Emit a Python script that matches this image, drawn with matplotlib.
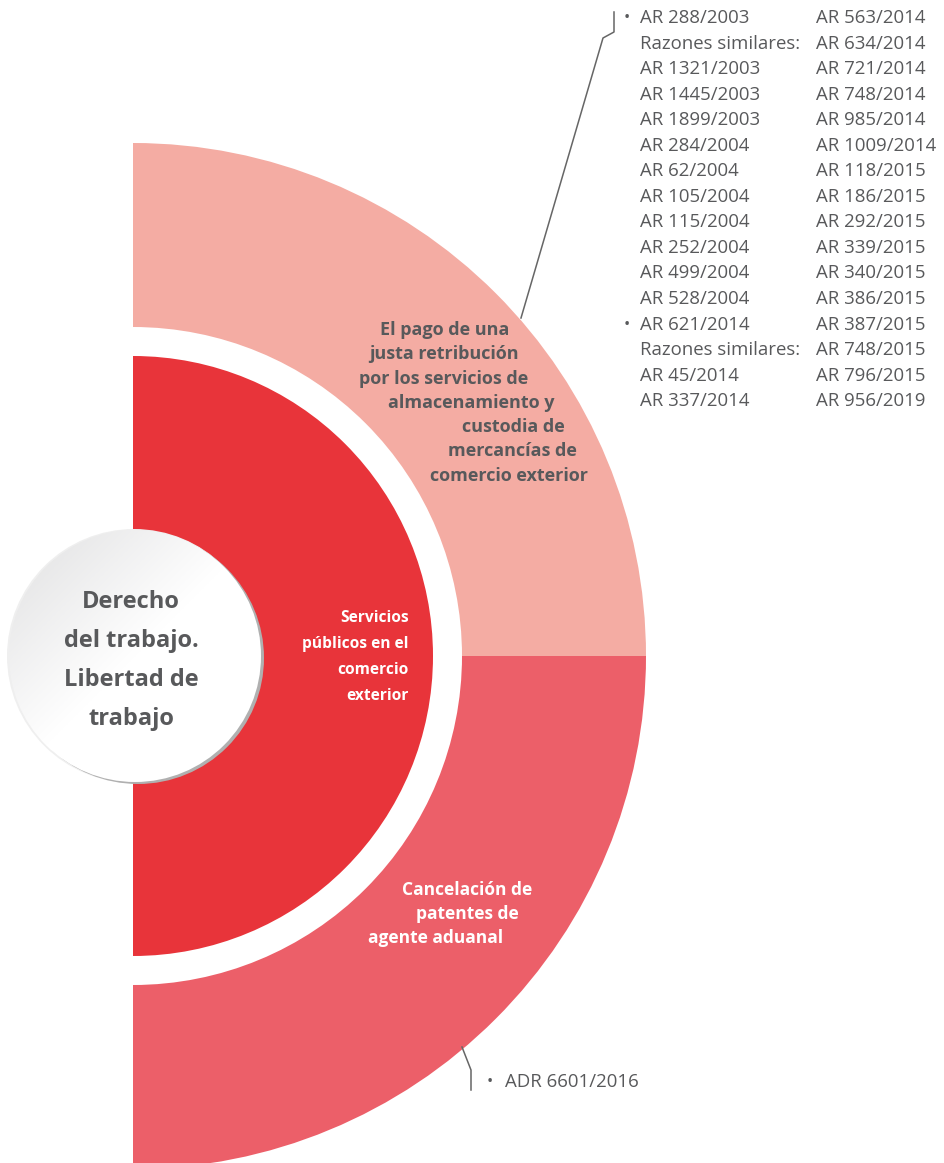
import numpy as np
import matplotlib
matplotlib.use("Agg")
from matplotlib import pyplot as plt
from matplotlib.patches import Wedge, Circle

plt.rcParams['font.family'] = ['Open Sans', 'DejaVu Sans']

# ---- data
centro = ["Derecho", "del trabajo.", "Libertad de", "trabajo"]
tema = ["Servicios", "públicos en el", "comercio", "exterior"]
sub_arriba = ["El pago de una", "justa retribución", "por los servicios de",
              "almacenamiento y", "custodia de", "mercancías de", "comercio exterior"]
sub_abajo = ["Cancelación de", "patentes de", "agente aduanal"]

col1 = ["AR 288/2003", "Razones similares:", "AR 1321/2003", "AR 1445/2003",
        "AR 1899/2003", "AR 284/2004", "AR 62/2004", "AR 105/2004", "AR 115/2004",
        "AR 252/2004", "AR 499/2004", "AR 528/2004", "AR 621/2014",
        "Razones similares:", "AR 45/2014", "AR 337/2014"]
col2 = ["AR 563/2014", "AR 634/2014", "AR 721/2014", "AR 748/2014", "AR 985/2014",
        "AR 1009/2014", "AR 118/2015", "AR 186/2015", "AR 292/2015", "AR 339/2015",
        "AR 340/2015", "AR 386/2015", "AR 387/2015", "AR 748/2015", "AR 796/2015",
        "AR 956/2019"]
vinetas1 = [0, 12]   # filas con viñeta
lista_abajo = ["ADR 6601/2016"]

gris = '#58595b'
rosa = '#f4aca3'
rojo = '#e8343a'
coral = '#ec5f69'

W, H = 944, 1163
fig = plt.figure(figsize=(W / 100, H / 100), dpi=100)
ax = fig.add_axes([0, 0, 1, 1])
ax.set_xlim(0, W)
ax.set_ylim(H, 0)
ax.set_aspect('equal')
ax.axis('off')

cx, cy = 133, 656
R_ext, R_int, R_rojo = 513, 329, 300

# anillo exterior (y invertida: -90..0 es arriba)
ax.add_patch(Wedge((cx, cy), R_ext, -90, 0, width=R_ext - R_int, color=rosa, lw=0))
ax.add_patch(Wedge((cx, cy), R_ext, 0, 90, width=R_ext - R_int, color=coral, lw=0))
ax.add_patch(Wedge((cx, cy), R_rojo, -90, 90, color=rojo, lw=0))

# circulo central con sombra y degradado
ccx, ccy, cr = 135, 656, 126
ax.add_patch(Circle((ccx + 3, ccy + 2), cr, color='#b0b0b0', lw=0, zorder=3))
ax.add_patch(Circle((ccx - 1, ccy), cr + 1, color='#efefef', lw=0, zorder=2.9))
gx, gy = np.meshgrid(np.linspace(0, 1, 200), np.linspace(0, 1, 200))
grad = (gx + gy) / 2
img = ax.imshow(grad, cmap=matplotlib.colors.LinearSegmentedColormap.from_list(
    'g', ['#e0e0e1', '#ffffff', '#ffffff']), extent=(ccx - cr, ccx + cr, ccy + cr, ccy - cr),
    zorder=4, interpolation='bilinear')
clip = Circle((ccx, ccy), cr, transform=ax.transData)
img.set_clip_path(clip)

# textos centrales
for i, t in enumerate(centro):
    ax.text(131, 602 + i * 39, t, ha='center', va='center', fontsize=17,
            fontweight='bold', color=gris, zorder=5)

for i, t in enumerate(tema):
    ax.text(409, 618 + i * 26, t, ha='right', va='center', fontsize=11.2,
            fontweight='bold', color='white', zorder=5)

x_arriba = [445, 444, 444, 471, 513, 512, 509]
for i, t in enumerate(sub_arriba):
    ax.text(x_arriba[i], 330 + i * 24.3, t, ha='center', va='center', fontsize=13,
            fontweight='bold', color=gris, zorder=5)

x_abajo = [467, 467, 436]
for i, t in enumerate(sub_abajo):
    ax.text(x_abajo[i], 890 + i * 24, t, ha='center', va='center', fontsize=12.5,
            fontweight='bold', color='white', zorder=5)

# lineas guia
ax.plot([521, 603, 614, 614], [318, 38, 32, 12], color='#666666', lw=1.1, zorder=5)
ax.plot([462, 471, 471], [1047, 1070, 1090], color='#666666', lw=1.1, zorder=5)

# listas de resoluciones
paso = 25.55
fs = 13.4
for i, t in enumerate(col1):
    y = 18 + i * paso
    if i in vinetas1:
        ax.text(627, y, '•', ha='center', va='center', fontsize=12, color=gris)
    ax.text(640, y, t, ha='left', va='center', fontsize=fs, color=gris)
for i, t in enumerate(col2):
    ax.text(816, 18 + i * paso, t, ha='left', va='center', fontsize=fs, color=gris)

for i, t in enumerate(lista_abajo):
    ax.text(490, 1082 + i * paso, '•', ha='center', va='center', fontsize=12, color=gris)
    ax.text(505, 1082 + i * paso, t, ha='left', va='center', fontsize=fs, color=gris)

fig.savefig('out.png', dpi=100)
